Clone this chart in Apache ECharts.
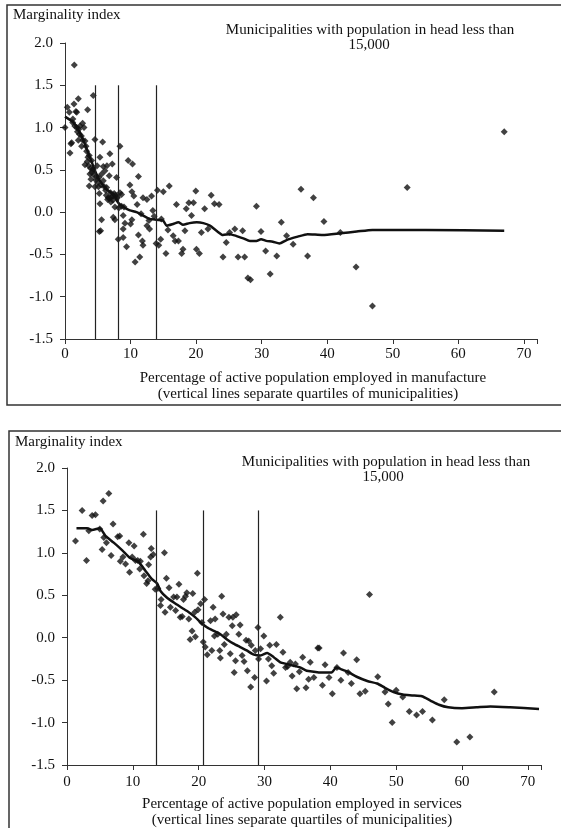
<!DOCTYPE html>
<html lang="en">
<head>
    <meta charset="UTF-8">
    <title>Marginality index</title>
    <script src="https://cdn.jsdelivr.net/npm/echarts@6/dist/echarts.min.js"></script>
    <style>
        html, body { margin: 0; padding: 0; background: #fff; }
    </style>
</head>
<body>
<div style="width:561px;height:828px" id="myChart"></div>
<script type="text/javascript">
    // manufacture panel: points [percentage, index]
    var manuPoints = [
        [0.0,1.0],[0.35,1.24],[0.66,1.18],[0.76,0.7],[0.91,0.81],[1.02,0.82],[1.17,1.06],[1.37,1.28],[1.42,1.74],
        [1.67,1.19],[1.78,1.18],[1.78,1.0],[2.03,1.34],[2.03,0.85],[2.1,0.98],[2.3,1.02],[2.54,0.78],[2.69,1.05],
        [2.9,1.0],[3.05,0.84],[3.05,0.56],[3.3,0.72],[3.45,1.21],[3.5,0.65],[3.7,0.67],[3.7,0.31],[3.8,0.45],
        [3.96,0.39],[4.06,0.61],[4.2,0.5],[4.31,1.38],[4.31,0.51],[4.57,0.86],[4.57,0.3],[4.8,0.42],[5.0,0.35],
        [5.18,0.41],[5.23,0.22],[5.33,0.65],[5.33,0.1],[5.43,-0.22],[5.23,-0.23],[5.58,-0.09],[5.74,0.83],[5.84,0.54],
        [5.84,0.37],[6.09,0.49],[6.2,0.26],[6.35,0.29],[6.6,0.17],[6.75,0.43],[6.85,0.69],[6.95,0.23],[7.0,0.12],
        [7.21,0.57],[7.36,0.19],[7.36,-0.06],[7.5,0.22],[7.61,0.06],[7.61,-0.09],[7.87,0.41],[8.0,0.17],[8.12,-0.32],
        [8.38,0.78],[8.38,0.23],[8.63,0.21],[8.63,0.07],[8.88,-0.04],[8.88,-0.2],[8.88,-0.3],[9.14,-0.13],[9.39,-0.41],
        [9.64,0.61],[9.9,0.32],[10.0,-0.14],[10.2,0.24],[10.2,-0.09],[10.3,0.57],[10.5,0.19],[10.7,-0.59],[11.0,0.09],
        [11.2,0.42],[11.2,-0.27],[11.4,-0.53],[11.6,-0.02],[11.8,-0.34],[11.9,0.17],[11.9,-0.39],[12.5,0.15],[12.5,-0.16],
        [12.8,-0.1],[12.9,-0.2],[13.2,0.19],[13.4,0.02],[13.6,-0.05],[13.9,-0.37],[14.1,0.26],[14.3,-0.39],[14.6,-0.32],
        [14.7,-0.08],[15.0,0.24],[15.4,-0.49],[15.7,-0.21],[15.9,0.31],[16.5,-0.28],[16.8,-0.34],[17.0,0.09],[17.3,-0.34],
        [17.8,-0.49],[18.0,-0.44],[18.3,-0.22],[18.5,0.04],[18.9,0.11],[19.3,-0.04],[19.6,0.11],[19.95,0.25],[20.05,-0.44],
        [20.5,-0.49],[20.8,-0.24],[21.3,0.04],[21.8,-0.2],[22.3,0.2],[22.8,0.1],[23.5,0.09],[24.1,-0.53],[24.6,-0.36],
        [25.1,-0.24],[25.9,-0.2],[26.4,-0.53],[27.1,-0.22],[27.4,-0.53],[27.9,-0.78],[28.3,-0.8],[29.2,0.07],[29.9,-0.23],
        [30.6,-0.46],[31.3,-0.73],[32.3,-0.52],[33.0,-0.12],[33.8,-0.28],[34.8,-0.38],[36.0,0.27],[37.0,-0.52],[37.9,0.17],
        [39.5,-0.11],[42.0,-0.24],[44.4,-0.65],[46.9,-1.11],[52.2,0.29],[67.0,0.95],
        [1.2,1.1],[1.5,1.02],[1.9,0.95],[2.2,0.92],[2.5,0.9],[2.7,0.85],[3.2,0.78],[3.4,0.6],[3.6,0.55],[3.9,0.52],
        [4.1,0.47],[4.4,0.44],[4.7,0.38],[5.1,0.3],[5.5,0.32],[6.0,0.3],[6.3,0.2],[6.5,0.15],[6.8,0.16],[7.1,0.18],
        [7.3,0.14],[7.7,0.2],[7.9,0.18],[8.2,0.05],[9.0,0.06],[6.4,0.55],[5.6,0.45],[4.9,0.55]
    ];
    // smoothed curve through the manufacture points
    var manuCurve = [
        [0,1.13],[1.27,1.06],[2.28,0.94],[3.05,0.8],[3.8,0.65],[4.57,0.49],[5.33,0.37],[6.35,0.27],[7.36,0.21],
        [8.12,0.11],[8.9,0.06],[9.9,0.02],[10.9,0.0],[11.9,-0.04],[12.9,-0.08],[13.96,-0.09],[14.97,-0.1],[15.5,-0.16],
        [16.5,-0.14],[17.3,-0.12],[18.0,-0.15],[19.0,-0.13],[20.1,-0.12],[21.1,-0.13],[22.1,-0.16],[23.1,-0.22],
        [24.1,-0.27],[25.1,-0.26],[26.1,-0.28],[27.2,-0.31],[28.2,-0.34],[29.2,-0.34],[29.9,-0.32],[30.7,-0.34],
        [31.7,-0.35],[32.7,-0.37],[33.8,-0.33],[35.5,-0.29],[37.0,-0.26],[39.3,-0.27],[42.0,-0.25],[44.5,-0.23],
        [46.9,-0.21],[55,-0.21],[67.0,-0.22]
    ];
    var manuQuartiles = [4.6, 8.1, 13.9];

    // services panel
    var servPoints = [
        [1.29,1.14],[2.3,1.5],[2.96,0.91],[3.31,1.26],[3.82,1.44],[4.32,1.45],[4.98,1.28],[5.49,1.61],[6.35,1.7],
        [5.34,1.04],[5.59,1.18],[5.99,1.12],[6.7,0.97],[7.0,1.34],[7.7,1.19],[8.0,1.2],[8.1,0.9],[8.5,0.95],[8.9,0.87],
        [9.4,1.12],[9.5,0.77],[9.9,0.95],[10.2,1.08],[10.4,0.91],[10.75,0.91],[11.05,0.81],[11.15,0.9],[11.6,1.22],
        [11.7,0.73],[12.1,0.64],[12.4,0.86],[12.7,0.95],[12.8,1.05],[13.1,0.98],[12.3,0.67],[13.4,0.57],[13.8,0.58],
        [14.2,0.38],[14.3,0.45],[14.8,1.0],[14.9,0.3],[15.1,0.7],[15.5,0.59],[15.7,0.36],[16.2,0.48],[16.5,0.32],
        [16.7,0.48],[17.0,0.63],[17.2,0.24],[17.5,0.25],[17.7,0.45],[18.0,0.49],[18.2,0.53],[18.5,0.22],[18.7,-0.02],
        [19.0,0.08],[19.1,0.52],[19.4,0.3],[19.5,0.01],[19.8,0.76],[19.9,0.33],[20.3,0.4],[20.5,0.18],[20.9,0.45],
        [20.7,-0.05],[21.0,-0.11],[21.3,-0.2],[21.8,0.2],[22.0,-0.15],[22.2,0.36],[22.4,0.02],[22.5,0.22],[22.9,0.04],
        [23.2,-0.15],[23.3,-0.24],[23.5,0.49],[23.7,0.28],[23.9,-0.08],[24.2,0.04],[24.6,0.24],[24.8,-0.19],[25.1,0.14],
        [25.2,0.24],[25.4,-0.41],[25.6,-0.27],[25.7,0.27],[26.1,0.04],[26.3,0.15],[26.6,-0.21],[26.9,-0.28],[27.2,-0.03],
        [27.4,-0.39],[27.6,-0.04],[27.9,-0.58],[28.0,-0.09],[28.5,-0.47],[28.6,-0.15],[29.0,0.12],[29.1,-0.25],
        [29.4,-0.13],[29.9,0.02],[30.3,-0.51],[30.6,-0.25],[30.8,-0.09],[31.1,-0.33],[31.4,-0.42],[31.8,-0.08],
        [32.4,0.24],[32.8,-0.17],[33.2,-0.35],[33.5,-0.34],[33.9,-0.29],[34.2,-0.45],[34.7,-0.31],[34.9,-0.6],
        [35.3,-0.4],[35.8,-0.23],[36.3,-0.59],[36.7,-0.49],[36.95,-0.29],[37.5,-0.47],[38.1,-0.12],[38.3,-0.12],
        [38.8,-0.56],[39.2,-0.32],[39.8,-0.47],[40.3,-0.66],[41.0,-0.35],[41.6,-0.5],[42.0,-0.18],[42.7,-0.41],
        [43.2,-0.54],[44.0,-0.26],[44.5,-0.66],[45.3,-0.63],[45.95,0.51],[47.2,-0.46],[48.3,-0.64],[48.8,-0.78],
        [49.4,-1.0],[50.0,-0.62],[51.0,-0.7],[52.0,-0.87],[53.1,-0.91],[54.0,-0.87],[55.5,-0.97],[57.3,-0.73],
        [59.2,-1.23],[61.2,-1.17],[64.9,-0.64]
    ];
    var servCurve = [
        [1.44,1.29],[3.06,1.29],[3.8,1.27],[4.98,1.29],[5.84,1.2],[7.1,1.12],[8.4,1.03],[9.6,0.94],[10.9,0.89],
        [11.9,0.79],[12.9,0.69],[13.7,0.64],[14.2,0.55],[15.2,0.47],[16.5,0.4],[17.5,0.35],[18.5,0.3],[19.5,0.24],
        [20.3,0.18],[21.3,0.12],[22.3,0.08],[23.3,0.04],[24.3,-0.02],[25.3,-0.07],[26.3,-0.11],[27.3,-0.15],
        [28.4,-0.2],[29.4,-0.21],[30.4,-0.18],[31.4,-0.23],[32.4,-0.29],[33.4,-0.31],[34.4,-0.33],[35.4,-0.35],
        [36.4,-0.39],[37.5,-0.4],[38.5,-0.41],[40.2,-0.41],[40.9,-0.35],[41.6,-0.37],[42.6,-0.4],[44.0,-0.46],
        [45.6,-0.51],[47.1,-0.54],[48.3,-0.59],[49.6,-0.64],[51.0,-0.67],[52.4,-0.68],[53.9,-0.69],[55.2,-0.74],
        [56.5,-0.79],[57.9,-0.82],[60.0,-0.83],[62.2,-0.82],[64.3,-0.81],[67.3,-0.82],[71.7,-0.84]
    ];
    var servQuartiles = [13.6, 20.7, 29.1];

    var quartileBottom = -1.5, quartileTop = 1.5;

    var ink = '#111';
    var serif = '"Liberation Serif", "Times New Roman", serif';
    var font = '15px ' + serif;

    function xAxisFor(idx, margin) {
        return {
            gridIndex: idx, type: 'value', min: 0, max: 72, interval: 10,
            splitLine: {show: false},
            axisLine: {onZero: false, lineStyle: {color: '#333', width: 1}},
            axisTick: {length: 5, lineStyle: {color: '#333'}},
            axisLabel: {
                margin: margin, color: ink, fontFamily: serif, fontSize: 15,
                formatter: function (v) { return v % 10 === 0 ? String(v) : ''; }
            }
        };
    }
    function yAxisFor(idx) {
        return {
            gridIndex: idx, type: 'value', min: -1.5, max: 2, interval: 0.5,
            splitLine: {show: false},
            axisLine: {show: true, onZero: false, lineStyle: {color: '#333', width: 1}},
            axisTick: {show: true, length: 5, lineStyle: {color: '#333'}},
            axisLabel: {
                margin: 12, color: ink, fontFamily: serif, fontSize: 15,
                formatter: function (v) { return v.toFixed(1); }
            }
        };
    }
    function quartileLines(list) {
        return list.map(function (q) {
            return [{coord: [q, quartileBottom]}, {coord: [q, quartileTop]}];
        });
    }
    function label(text, x, y, align) {
        return {
            type: 'text', x: x, y: y, silent: true,
            style: {text: text, font: font, fill: ink, textAlign: align || 'center', textVerticalAlign: 'middle'}
        };
    }
    function panelSeries(idx, points, curve, quartiles) {
        return [
            {
                type: 'scatter', xAxisIndex: idx, yAxisIndex: idx, data: points,
                symbol: 'diamond', symbolSize: 7, itemStyle: {color: ink},
                markLine: {
                    silent: true, symbol: ['none', 'none'],
                    label: {show: false},
                    lineStyle: {color: '#222', width: 1.2, type: 'solid'},
                    data: quartileLines(quartiles)
                }
            },
            {
                type: 'line', xAxisIndex: idx, yAxisIndex: idx, data: curve,
                showSymbol: false, smooth: 0.2, z: 3,
                lineStyle: {color: ink, width: 2.5}
            }
        ];
    }

    var myChart = echarts.init(document.getElementById('myChart'));
    myChart.setOption({
        animation: false,
        backgroundColor: '#fff',
        grid: [
            {left: 65, top: 43, width: 472, height: 296},
            {left: 67, top: 468, width: 474, height: 297}
        ],
        xAxis: [xAxisFor(0, 8), xAxisFor(1, 10)],
        yAxis: [yAxisFor(0), yAxisFor(1)],
        series: panelSeries(0, manuPoints, manuCurve, manuQuartiles)
            .concat(panelSeries(1, servPoints, servCurve, servQuartiles)),
        graphic: [
            // panel frames
            {type: 'rect', shape: {x: 7, y: 5, width: 570, height: 400}, silent: true,
                style: {fill: 'none', stroke: '#333', lineWidth: 1.5}},
            {type: 'rect', shape: {x: 9, y: 431, width: 570, height: 420}, silent: true,
                style: {fill: 'none', stroke: '#333', lineWidth: 1.5}},
            // top panel texts
            label('Marginality index', 13, 15, 'left'),
            label('Municipalities with population in head less than', 370, 30),
            label('15,000', 369, 45),
            label('Percentage of active population employed in manufacture', 313, 378),
            label('(vertical lines separate quartiles of municipalities)', 308, 394),
            // bottom panel texts
            label('Marginality index', 15, 442, 'left'),
            label('Municipalities with population in head less than', 386, 462),
            label('15,000', 383, 477),
            label('Percentage of active population employed in services', 302, 804),
            label('(vertical lines separate quartiles of municipalities)', 302, 820)
        ]
    });
</script>
</body>
</html>
